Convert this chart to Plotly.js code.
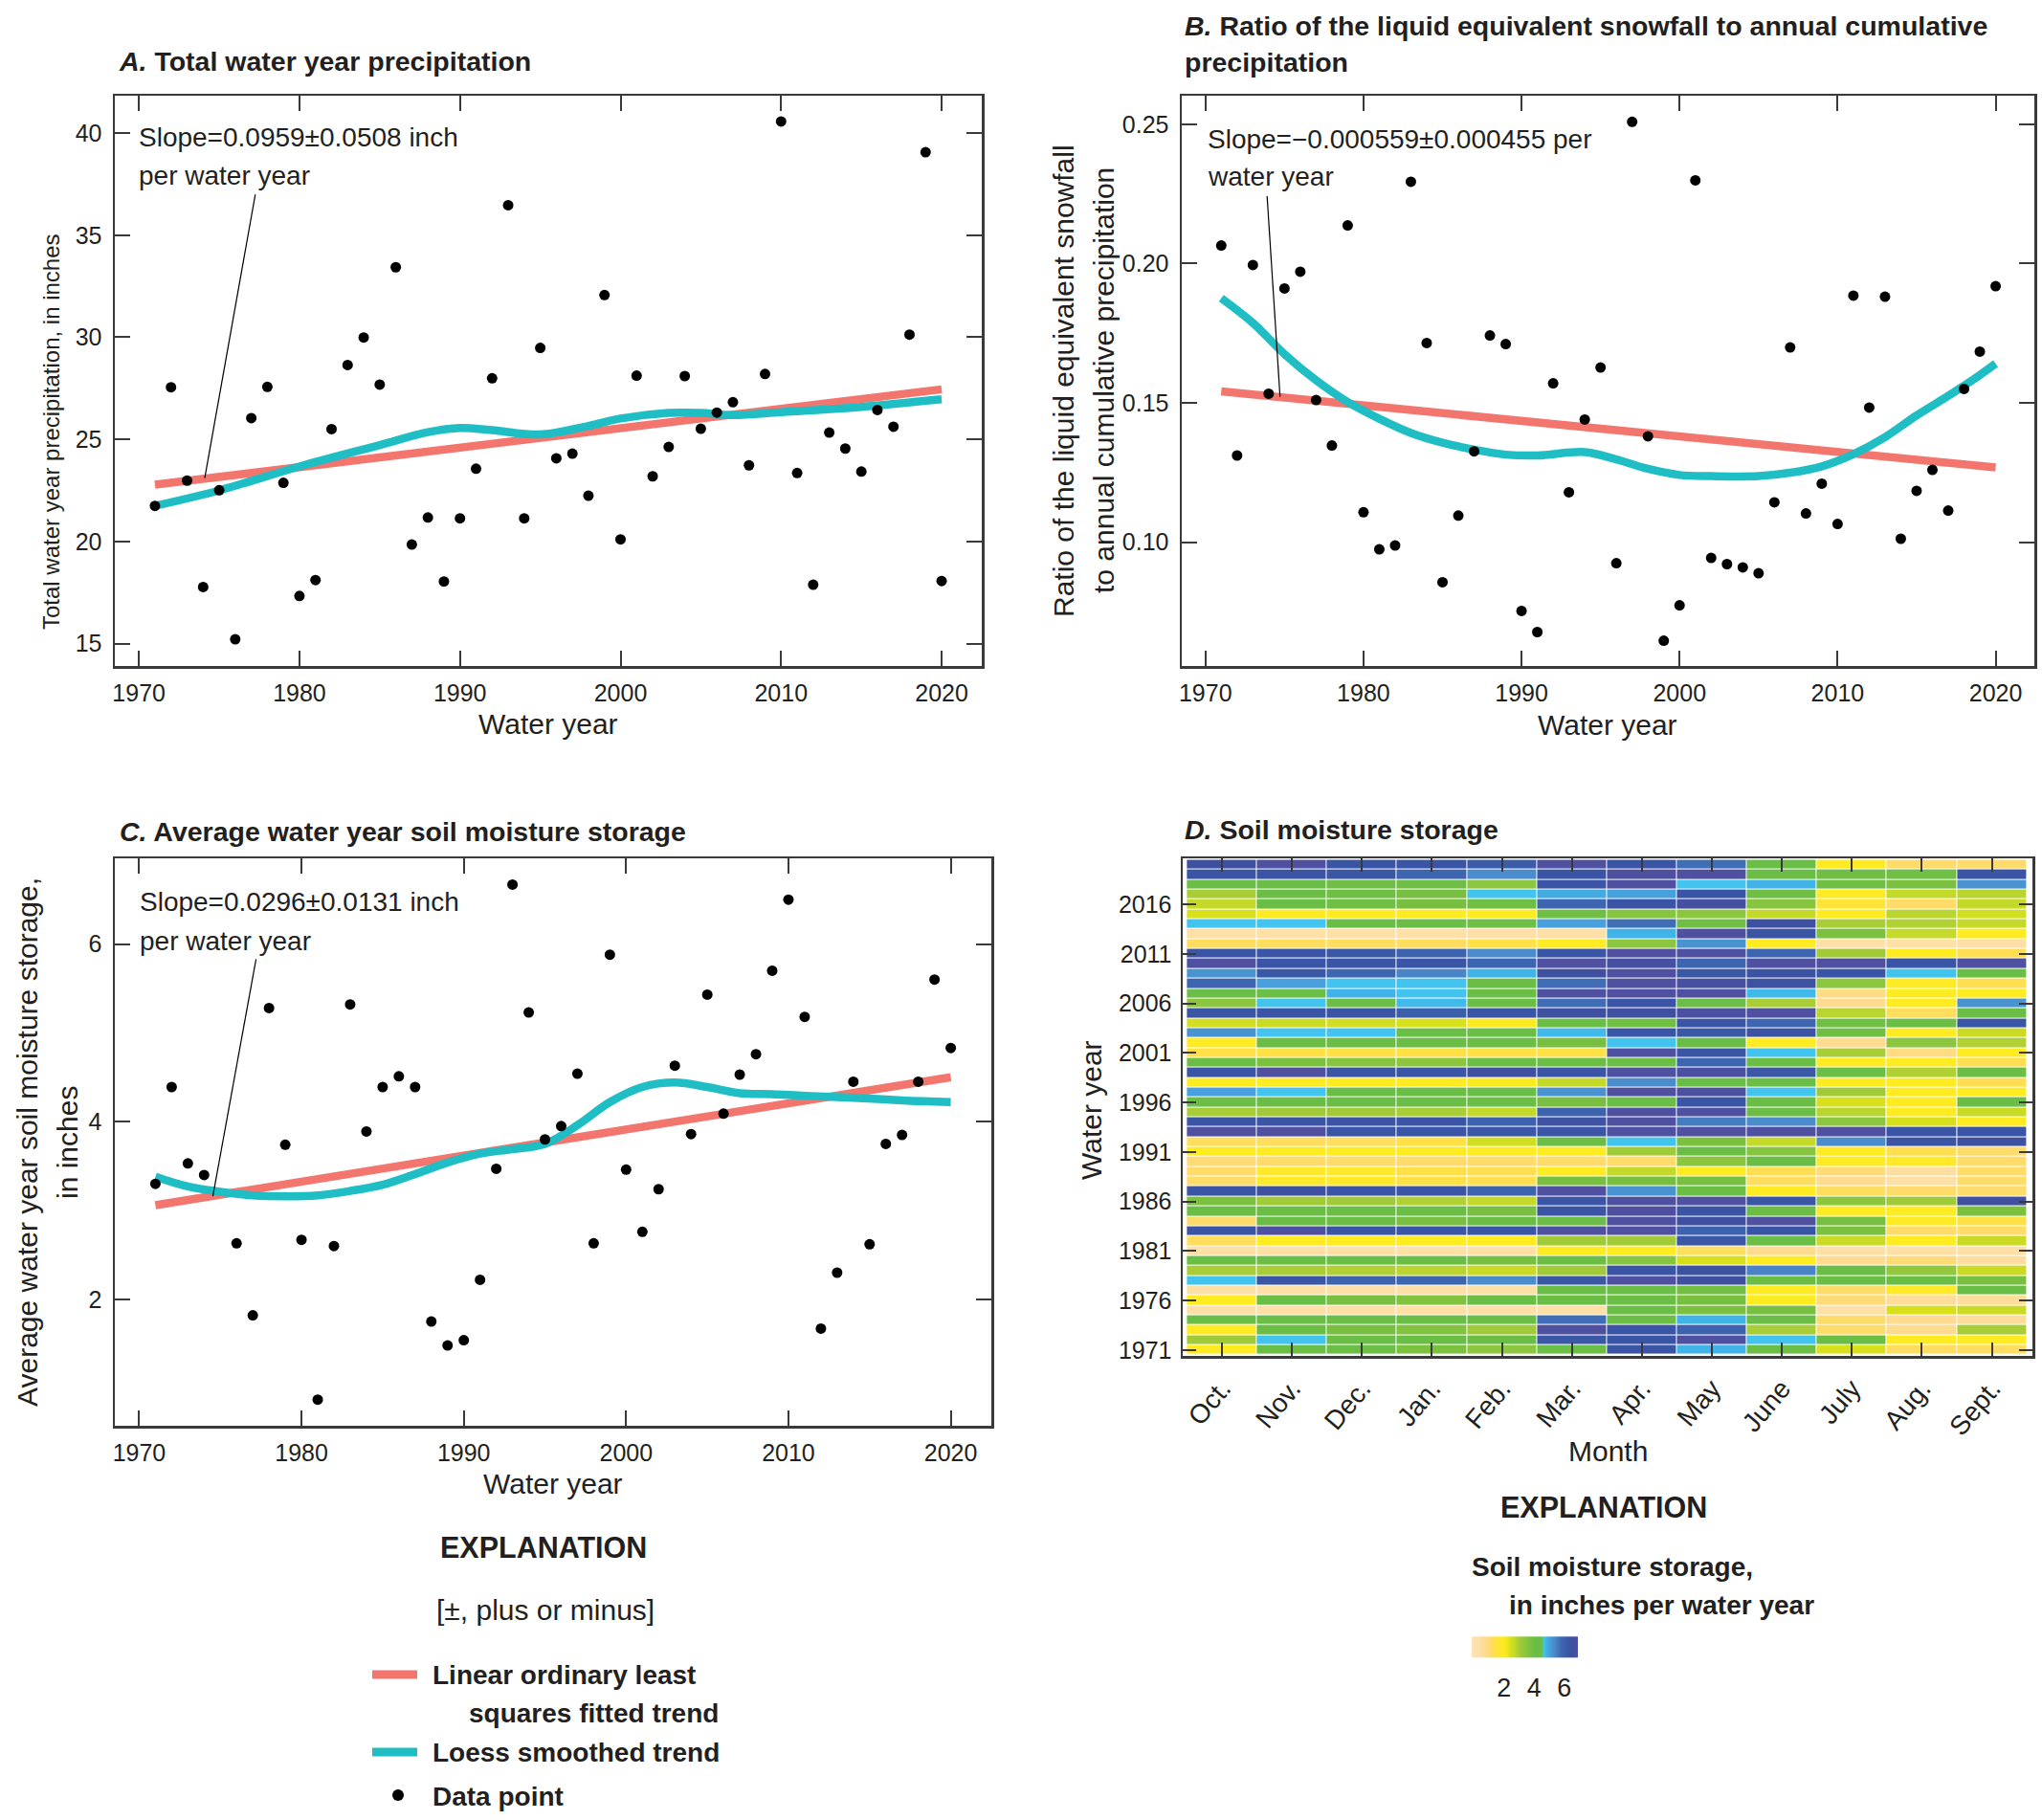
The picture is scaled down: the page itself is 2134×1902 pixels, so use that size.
<!DOCTYPE html>
<html>
<head>
<meta charset="utf-8">
<script src="https://cdn.plot.ly/plotly-3.0.1.min.js"></script>
<style>
  html, body { margin: 0; padding: 0; background: #ffffff; }
  #chart { width: 2134px; height: 1902px; }
</style>
</head>
<body>
<div id="chart"></div>
<script>
// ---------------- DATA ----------------
const years = [1971,1972,1973,1974,1975,1976,1977,1978,1979,1980,1981,1982,1983,1984,1985,1986,1987,1988,1989,1990,
  1991,1992,1993,1994,1995,1996,1997,1998,1999,2000,2001,2002,2003,2004,2005,2006,2007,2008,2009,2010,
  2011,2012,2013,2014,2015,2016,2017,2018,2019,2020];

// A. Total water year precipitation, inches
const precip = [21.74,27.55,22.98,17.77,22.51,15.21,26.04,27.57,22.87,17.33,18.11,25.50,28.64,29.99,27.68,33.43,19.85,21.17,18.04,21.13,
  23.56,27.99,36.47,21.13,29.48,24.07,24.30,22.24,32.07,20.10,28.12,23.19,24.63,28.10,25.52,26.31,26.82,23.73,28.20,40.57,
  23.35,17.88,25.33,24.55,23.42,26.44,25.62,30.13,39.06,18.06];

// B. Ratio of liquid equivalent snowfall to annual cumulative precipitation
const snowRatio = [0.2065,0.1311,0.1995,0.1533,0.1911,0.1971,0.1510,0.1347,0.2137,0.1107,0.0974,0.0988,0.2294,0.1715,0.0856,0.1095,0.1326,0.1742,0.1711,0.0753,
  0.0677,0.1570,0.1179,0.1440,0.1627,0.0924,0.2509,0.1380,0.0646,0.0773,0.2299,0.0943,0.0921,0.0909,0.0888,0.1143,0.1699,0.1103,0.1210,0.1065,
  0.1885,0.1483,0.1881,0.1012,0.1184,0.1259,0.1113,0.1550,0.1684,0.1919];

// C. Average water year soil moisture storage, inches (1975 not shown)
const soilAvg = [3.30,4.39,3.53,3.40,null,2.63,1.82,5.28,3.74,2.67,0.87,2.60,5.32,3.89,4.39,4.51,4.39,1.75,1.48,1.54,
  2.22,3.47,6.67,5.23,3.80,3.95,4.54,2.63,5.88,3.46,2.76,3.24,4.63,3.86,5.43,4.09,4.53,4.76,5.70,6.50,
  5.18,1.67,2.30,4.45,2.62,3.75,3.85,4.45,5.60,4.83];

// Linear OLS trends (end points)
const trendYears = [1971, 2020];
const precipTrend = [22.78, 27.45];
const ratioTrend = [0.1541, 0.1268];
const soilTrend = [3.06, 4.50];

// Loess smoothed trends
const loessYearsA = [1971,1975,1980,1985,1988,1990,1992,1995,1998,2000,2003,2005,2007,2010,2015,2020];
const loessA = [21.74,22.50,23.67,24.72,25.35,25.56,25.45,25.24,25.66,26.02,26.29,26.29,26.19,26.33,26.59,26.96];
const loessYearsB = [1971,1973,1975,1977,1979,1981,1983,1985,1987,1989,1991,1994,1996,1998,2000,2002,2005,2007,2009,2011,2013,2015,2017,2018,2019,2020];
const loessB = [0.1876,0.1787,0.1675,0.1581,0.1503,0.1443,0.1392,0.1357,0.1332,0.1314,0.1311,0.1323,0.1297,0.1263,0.1241,0.1237,0.1237,0.1249,0.1272,0.1316,0.1377,0.1455,0.1525,0.1562,0.1600,0.1641];
const loessYearsC = [1971,1973,1975,1977,1979,1981,1983,1985,1987,1989,1991,1993,1995,1997,1999,2001,2003,2005,2007,2009,2011,2014,2017,2020];
const loessC = [3.38,3.27,3.21,3.17,3.16,3.17,3.22,3.29,3.41,3.54,3.64,3.69,3.75,3.96,4.22,4.39,4.44,4.39,4.32,4.31,4.29,4.27,4.24,4.22];

// Slope text and leader-line end points (data coordinates)
const slopeTextA = ["Slope=0.0959±0.0508 inch", "per water year"];
const slopeTextB = ["Slope=\u22120.000559±0.000455 per", "water year"];
const slopeTextC = ["Slope=0.0296±0.0131 inch", "per water year"];
const leaderA = {x: [1977.25, 1974.1], y: [37.0, 23.1]};
const leaderB = {x: [1973.9, 1974.72], y: [0.2242, 0.1522]};
const leaderC = {x: [1977.2, 1974.54], y: [5.83, 3.16]};

// D. Monthly soil moisture storage (inches), rows = water years 1971..2020, columns Oct..Sept
const months = ["Oct.","Nov.","Dec.","Jan.","Feb.","Mar.","Apr.","May","June","July","Aug.","Sept."];
const soilMonthly = [
  [1.9,4.1,4.1,3.7,3.4,4.1,6.3,4.8,4.1,2.4,1.2,1.2],      // 1971
  [3.1,4.65,4.1,4.1,4.1,6.2,6.3,6.9,4.65,4.1,1.9,1.9],    // 1972
  [1.9,4.1,3.8,3.6,3.1,6.9,6.3,5.9,3.0,1.1,0.8,3.0],      // 1973
  [4.1,4.1,4.1,4.1,4.1,5.7,4.1,4.8,4.1,1.1,0.8,0.6],      // 1974
  [0.4,0.4,0.4,0.4,0.4,0.4,4.1,3.7,3.8,0.4,2.4,2.6],      // 1975
  [1.9,4.1,3.8,3.6,4.1,4.1,4.1,3.8,1.9,1.0,0.6,0.6],      // 1976
  [0.4,0.4,0.4,0.4,0.4,4.1,4.1,3.9,1.9,1.1,1.8,4.1],      // 1977
  [4.65,6.3,5.9,5.8,5.3,6.2,6.9,6.6,4.1,4.1,4.1,3.8],     // 1978
  [3.0,3.0,2.9,2.8,2.6,3.1,6.3,6.5,5.4,4.1,3.3,2.6],      // 1979
  [4.1,4.1,4.1,4.1,3.8,4.1,3.5,2.4,1.9,0.8,1.0,0.5],      // 1980
  [0.4,0.4,0.4,0.4,0.4,1.9,1.9,1.2,0.8,0.4,0.4,0.4],      // 1981
  [1.2,1.9,1.9,1.9,1.9,3.1,3.1,6.2,4.1,2.6,1.9,2.6],      // 1982
  [6.3,6.9,6.3,6.3,6.3,6.9,6.9,5.9,6.3,3.7,1.1,1.1],      // 1983
  [1.1,4.1,4.1,3.8,4.1,4.1,6.9,6.6,6.9,3.8,1.9,1.4],      // 1984
  [4.1,4.1,4.1,4.1,3.8,6.3,6.9,6.3,4.1,1.9,1.9,3.7],      // 1985
  [3.7,3.1,3.1,2.9,2.7,6.3,6.9,6.9,6.3,3.4,3.1,6.6],      // 1986
  [6.3,6.6,6.3,6.3,5.9,6.9,5.2,4.1,1.9,1.2,1.1,1.1],      // 1987
  [1.1,1.8,1.8,1.4,1.3,3.8,3.8,3.8,1.2,0.8,0.4,1.1],      // 1988
  [1.1,1.8,1.8,1.4,1.3,1.9,2.7,1.9,1.3,1.0,0.5,1.1],      // 1989
  [1.0,1.1,1.1,1.1,1.1,1.1,1.1,3.4,4.1,1.9,1.8,1.1],      // 1990
  [1.9,1.9,1.9,1.9,1.9,1.9,3.1,4.1,3.5,1.9,1.3,1.1],      // 1991
  [1.2,1.2,1.2,1.4,2.5,4.1,4.65,3.7,2.7,5.3,6.3,6.6],     // 1992
  [6.9,6.9,6.3,6.3,6.2,6.3,6.9,6.9,6.9,6.9,6.3,6.3],      // 1993
  [6.3,6.3,6.3,6.3,5.9,6.5,6.9,5.5,5.3,3.4,2.4,1.9],      // 1994
  [3.0,3.1,3.1,3.0,2.7,5.9,6.9,6.9,4.1,2.8,1.9,2.6],      // 1995
  [4.1,4.1,4.1,4.1,4.1,3.8,4.1,6.3,4.1,2.4,1.9,4.1],      // 1996
  [5.0,4.65,4.1,4.1,4.1,5.2,6.9,6.8,4.65,3.1,1.9,1.9],    // 1997
  [1.9,1.9,1.9,1.9,2.0,2.7,5.3,4.1,4.1,1.9,1.9,1.3],      // 1998
  [6.3,6.9,6.3,6.3,6.6,6.3,6.9,6.8,6.2,4.1,2.9,4.1],      // 1999
  [4.1,3.7,3.5,3.4,4.1,4.1,4.1,5.8,4.1,1.9,1.9,1.3],      // 2000
  [1.4,1.4,1.4,1.4,1.4,1.4,6.9,6.3,4.65,3.0,0.9,1.9],     // 2001
  [1.9,4.1,4.1,4.1,4.1,3.8,4.65,4.1,1.9,0.8,3.4,2.9],     // 2002
  [5.2,4.65,4.65,4.1,4.1,4.75,6.3,6.2,6.4,4.0,1.9,2.6],   // 2003
  [2.5,2.6,2.5,2.4,2.0,4.1,4.0,6.3,5.8,4.0,4.1,6.3],      // 2004
  [6.3,6.3,6.3,6.0,6.3,6.6,6.6,6.8,6.9,2.8,1.2,4.1],      // 2005
  [3.4,4.65,4.1,4.75,4.1,5.7,6.3,4.1,3.0,0.8,1.9,5.2],    // 2006
  [4.1,4.1,4.8,4.65,4.1,6.9,6.9,6.9,4.75,0.9,1.9,1.9],    // 2007
  [5.8,5.0,4.65,4.65,4.1,5.7,6.9,6.7,6.5,3.4,1.9,1.3],    // 2008
  [5.2,6.2,5.8,5.4,4.8,6.6,6.9,6.2,6.4,6.3,4.65,4.1],     // 2009
  [6.9,6.3,6.3,6.3,5.8,6.9,6.7,5.8,6.9,6.9,6.3,6.9],      // 2010
  [6.3,6.3,6.2,5.9,5.3,6.3,6.9,6.9,5.8,3.1,1.9,1.3],      // 2011
  [1.2,1.2,1.2,1.2,1.4,1.9,3.4,5.2,1.9,0.4,0.4,0.4],      // 2012
  [0.4,0.4,0.4,0.4,0.4,0.4,4.8,6.9,6.3,3.7,2.7,1.9],      // 2013
  [4.65,4.65,4.1,4.1,4.0,5.0,5.7,4.0,6.6,3.0,2.9,2.7],    // 2014
  [2.4,1.9,1.9,1.9,1.9,4.0,3.5,3.4,2.7,1.9,2.8,2.5],      // 2015
  [2.7,4.1,4.0,3.8,4.0,5.8,6.3,6.7,3.5,1.6,1.1,2.7],      // 2016
  [3.0,4.1,4.0,3.8,4.65,4.9,5.0,6.3,4.0,1.9,2.7,2.8],     // 2017
  [4.1,4.1,4.0,4.0,3.4,6.3,6.9,4.65,4.8,4.0,3.7,5.2],     // 2018
  [6.3,6.3,6.2,5.8,5.3,6.3,6.9,6.9,4.1,4.0,4.0,6.3],      // 2019
  [6.6,6.9,6.3,6.3,6.1,6.9,6.3,5.7,4.1,1.9,1.1,1.1]       // 2020
];
const xTickYears = [1970,1980,1990,2000,2010,2020];
const heatYearTicks = [1971,1976,1981,1986,1991,1996,2001,2006,2011,2016];
const colorbarTicks = [2,4,6];

// ---------------- STYLE ----------------
const W = 2134, H = 1902;
const px = x => x / W;
const py = y => 1 - y / H;
const COND = "'Liberation Sans', Arial, sans-serif";
const REG = "'Liberation Sans', Arial, sans-serif";
const INK = '#231f20';
const FRAME = '#3a3a3a';
const SALMON = '#f2766d';
const TEAL = '#1fbec4';

const colorscale = [
  [0.000,'#fee3b5'],[0.078,'#fedfa5'],[0.135,'#ffdb90'],[0.177,'#ffdb6a'],[0.220,'#ffe045'],
  [0.291,'#ffeb22'],[0.333,'#f3e81c'],[0.362,'#d8e01c'],[0.404,'#c4d92a'],[0.433,'#b0d034'],
  [0.461,'#a0ca38'],[0.504,'#8cc63e'],[0.546,'#7cc040'],[0.603,'#6bbe45'],[0.660,'#6bbe45'],
  [0.681,'#42c4f0'],[0.702,'#40b4e8'],[0.730,'#48a0dc'],[0.773,'#4a8ccc'],[0.844,'#3e66b0'],
  [0.915,'#3a55a5'],[0.957,'#4050a0'],[1.000,'#5050a0']
];

function baseAxis(extra) {
  return Object.assign({
    showline: true, linecolor: FRAME, linewidth: 2.5, mirror: 'ticks',
    ticks: 'inside', ticklen: 16, tickwidth: 2, tickcolor: FRAME,
    showgrid: false, zeroline: false, fixedrange: true,
    tickfont: {family: COND, size: 25, color: INK}
  }, extra);
}

// ---------------- TRACES ----------------
const traces = [];
function panel(xa, ya, trendY, lx, ly, pts) {
  traces.push({type:'scatter', mode:'lines', x: trendYears, y: trendY, xaxis: xa, yaxis: ya,
    line:{color: SALMON, width: 8.5}, hoverinfo:'skip'});
  traces.push({type:'scatter', mode:'lines', x: lx, y: ly, xaxis: xa, yaxis: ya,
    line:{color: TEAL, width: 8.5, shape:'spline', smoothing: 1.0}, hoverinfo:'skip'});
  traces.push({type:'scatter', mode:'markers', x: years, y: pts, xaxis: xa, yaxis: ya,
    marker:{color:'#000000', size: 11}});
}
panel('x', 'y', precipTrend, loessYearsA, loessA, precip);
panel('x2', 'y2', ratioTrend, loessYearsB, loessB, snowRatio);
panel('x3', 'y3', soilTrend, loessYearsC, loessC, soilAvg);

traces.push({
  type: 'heatmap', x: months, y: years, z: soilMonthly, xaxis: 'x4', yaxis: 'y4',
  colorscale: colorscale, zmin: -0.15, zmax: 6.9, xgap: 1, ygap: 1,
  colorbar: {
    orientation: 'h', x: px(1593.5), xanchor: 'center', y: py(1745), yanchor: 'middle',
    len: 111, lenmode: 'pixels', thickness: 22, thicknessmode: 'pixels',
    outlinewidth: 0, tickvals: colorbarTicks, ticks: 'outside', ticklen: 9, tickcolor: 'rgba(0,0,0,0)',
    xpad: 0, ypad: 0,
    tickfont: {family: COND, size: 27, color: INK}
  }
});

// ---------------- ANNOTATIONS ----------------
const ann = [];
function T(text, x, y, size, family, opts) {
  ann.push(Object.assign({text: text, x: px(x), y: py(y), xref:'paper', yref:'paper', showarrow:false,
    xanchor:'left', yanchor:'middle', font:{family: family, size: size, color: INK}}, opts || {}));
}
// Panel titles
T('<b><i>A.</i> Total water year precipitation</b>', 122, 64, 28.5, COND);
T('<b><i>B.</i> Ratio of the liquid equivalent snowfall to annual cumulative</b>', 1236, 27, 28.5, COND);
T('<b>precipitation</b>', 1236, 65, 28.5, COND);
T('<b><i>C.</i> Average water year soil moisture storage</b>', 123, 869, 28.5, COND);
T('<b><i>D.</i> Soil moisture storage</b>', 1236, 867, 28.5, COND);
// Axis titles
T('Water year', 573, 756, 30, COND, {xanchor:'center'});
T('Water year', 1680, 758, 30, COND, {xanchor:'center'});
T('Water year', 578, 1550, 30, COND, {xanchor:'center'});
T('Month', 1680, 1516, 30, COND, {xanchor:'center'});
T('Total water year precipitation, in inches', 54, 451, 24, REG, {xanchor:'center', textangle:-90});
T('Ratio of the liquid equivalent snowfall', 1111, 398, 30, REG, {xanchor:'center', textangle:-90});
T('to annual cumulative precipitation', 1153, 398, 30, REG, {xanchor:'center', textangle:-90});
T('Average water year soil moisture storage,', 28, 1194, 30, REG, {xanchor:'center', textangle:-90});
T('in inches', 70, 1194, 30, REG, {xanchor:'center', textangle:-90});
T('Water year', 1140, 1160, 30, COND, {xanchor:'center', textangle:-90});
// Slope labels (data coordinates)
function S(text, xa, ya, x, y) {
  ann.push({text: text, x: x, y: y, xref: xa, yref: ya, showarrow:false, xanchor:'left', yanchor:'middle',
    font:{family: COND, size: 28, color: INK}});
}
S(slopeTextA[0], 'x', 'y', 1969.9, 39.8); S(slopeTextA[1], 'x', 'y', 1969.9, 37.9);
S(slopeTextB[0], 'x2', 'y2', 1970.0, 0.2448); S(slopeTextB[1], 'x2', 'y2', 1970.0, 0.2311);
S(slopeTextC[0], 'x3', 'y3', 1969.9, 6.47); S(slopeTextC[1], 'x3', 'y3', 1969.9, 6.03);
// Explanation (left)
T('<b>EXPLANATION</b>', 568, 1617, 30.5, COND, {xanchor:'center'});
T('[±, plus or minus]', 570, 1682, 30, REG, {xanchor:'center'});
T('<b>Linear ordinary least</b>', 450, 1750, 28, COND);
T('<b>squares fitted trend</b>', 488, 1790, 28, COND);
T('<b>Loess smoothed trend</b>', 450, 1831, 28, COND);
T('<b>Data point</b>', 450, 1877, 28, COND);
// Explanation (right)
T('<b>EXPLANATION</b>', 1676, 1575, 30.5, COND, {xanchor:'center'});
T('<b>Soil moisture storage,</b>', 1536, 1637, 28, COND);
T('<b>in inches per water year</b>', 1575, 1677, 28, COND);

// ---------------- SHAPES ----------------
const shapes = [
  {type:'line', xref:'x', yref:'y', x0: leaderA.x[0], y0: leaderA.y[0], x1: leaderA.x[1], y1: leaderA.y[1], line:{color:'#000', width:1.2}},
  {type:'line', xref:'x2', yref:'y2', x0: leaderB.x[0], y0: leaderB.y[0], x1: leaderB.x[1], y1: leaderB.y[1], line:{color:'#000', width:1.2}},
  {type:'line', xref:'x3', yref:'y3', x0: leaderC.x[0], y0: leaderC.y[0], x1: leaderC.x[1], y1: leaderC.y[1], line:{color:'#000', width:1.2}},
  {type:'line', xref:'paper', yref:'paper', x0: px(389), x1: px(436), y0: py(1750), y1: py(1750), line:{color: SALMON, width: 9}},
  {type:'line', xref:'paper', yref:'paper', x0: px(389), x1: px(436), y0: py(1831), y1: py(1831), line:{color: TEAL, width: 9}},
  {type:'circle', xref:'paper', yref:'paper', x0: px(410), x1: px(422), y0: py(1882), y1: py(1870), fillcolor:'#000', line:{width:0}}
];

// ---------------- LAYOUT ----------------
const layout = {
  width: W, height: H, margin:{l:0, r:0, t:0, b:0},
  paper_bgcolor:'#ffffff', plot_bgcolor:'#ffffff', showlegend:false,
  font:{family: COND, color: INK},
  xaxis: baseAxis({domain:[px(120), px(1026)], anchor:'y', range:[1968.5, 2022.5], tickvals: xTickYears, ticklabelstandoff: 4}),
  yaxis: baseAxis({domain:[py(696), py(100)], anchor:'x', range:[13.9, 41.83], tickvals:[15,20,25,30,35,40], ticklabelstandoff: 6}),
  xaxis2: baseAxis({domain:[px(1235), px(2126)], anchor:'y2', range:[1968.5, 2022.45], tickvals: xTickYears, ticklabelstandoff: 4}),
  yaxis2: baseAxis({domain:[py(696), py(100)], anchor:'x2', range:[0.0555, 0.2603], tickvals:[0.10,0.15,0.20,0.25], tickformat:'.2f', ticklabelstandoff: 6}),
  xaxis3: baseAxis({domain:[px(120), px(1036)], anchor:'y3', range:[1968.5, 2022.5], tickvals: xTickYears, ticklabelstandoff: 4}),
  yaxis3: baseAxis({domain:[py(1490), py(897)], anchor:'x3', range:[0.576, 6.965], tickvals:[2,4,6], ticklabelstandoff: 6}),
  xaxis4: baseAxis({domain:[px(1236), px(2124)], anchor:'y4', type:'category', range:[-0.56, 11.58],
    ticklen: 14, tickangle: -50, tickfont: {family: COND, size: 28, color: INK}, ticklabelstandoff: 4}),
  yaxis4: baseAxis({domain:[py(1417), py(897)], anchor:'x4', range:[1970.4, 2020.65], tickvals: heatYearTicks,
    ticklen: 14, ticklabelstandoff: 4}),
  annotations: ann,
  shapes: shapes
};

Plotly.newPlot('chart', traces, layout, {staticPlot: true, displayModeBar: false});
</script>
</body>
</html>
